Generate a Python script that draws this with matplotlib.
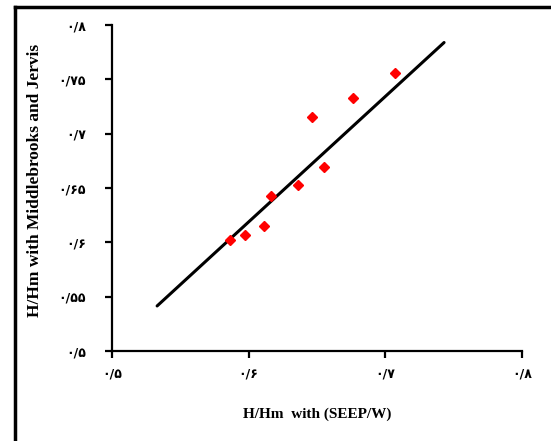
import matplotlib.pyplot as plt
from matplotlib.lines import Line2D

# data
seep = [0.586, 0.597, 0.611, 0.616, 0.636, 0.655, 0.646, 0.676, 0.707]
middlebrooks = [0.602, 0.607, 0.615, 0.643, 0.653, 0.669, 0.715, 0.733, 0.756]

fit_x = [0.533, 0.743]
fit_y = [0.5415, 0.784]

x_ticks = [0.5, 0.6, 0.7, 0.8]
x_labels = ['۰/۵', '۰/۶', '۰/۷', '۰/۸']
y_ticks = [0.5, 0.55, 0.6, 0.65, 0.7, 0.75, 0.8]
y_labels = ['۰/۵', '۰/۵۵', '۰/۶', '۰/۶۵', '۰/۷', '۰/۷۵', '۰/۸']

fig = plt.figure(figsize=(5.51, 4.41), dpi=100)
ax = fig.add_axes([0.2033, 0.204, 0.744, 0.739])

ax.plot(fit_x, fit_y, color='black', lw=2.2, solid_capstyle='round')
ax.plot(seep, middlebrooks, 'D', color='red', ms=5.5, mec='red')

ax.set_xlim(0.5, 0.8)
ax.set_ylim(0.5, 0.8)
ax.set_xticks(x_ticks)
ax.set_xticklabels(x_labels)
ax.set_yticks(y_ticks)
ax.set_yticklabels(y_labels)
for lab in ax.get_xticklabels() + ax.get_yticklabels():
    lab.set_family('DejaVu Sans')
    lab.set_fontsize(9)
    lab.set_fontweight('bold')

ax.spines['top'].set_visible(False)
ax.spines['right'].set_visible(False)
ax.spines['left'].set_linewidth(1.6)
ax.spines['bottom'].set_linewidth(1.6)
ax.tick_params(direction='out', length=5, width=1.6)
ax.tick_params(axis='x', pad=7)
ax.tick_params(axis='y', pad=14)

ax.set_xlabel('H/Hm  with (SEEP/W)', family='Liberation Serif',
              fontweight='bold', fontsize=11, labelpad=19)
fig.text(0.064, 0.59, 'H/Hm with Middlebrooks and Jervis', rotation=90,
         family='Liberation Serif', fontweight='bold', fontsize=12.5,
         ha='center', va='center')

# outer frame
fig.add_artist(Line2D([0.028, 0.028], [0.0, 0.984], color='black', lw=2.5,
                      transform=fig.transFigure))
fig.add_artist(Line2D([0.028, 1.0], [0.984, 0.984], color='black', lw=2.5,
                      transform=fig.transFigure))

fig.savefig('out.png', dpi=100)
